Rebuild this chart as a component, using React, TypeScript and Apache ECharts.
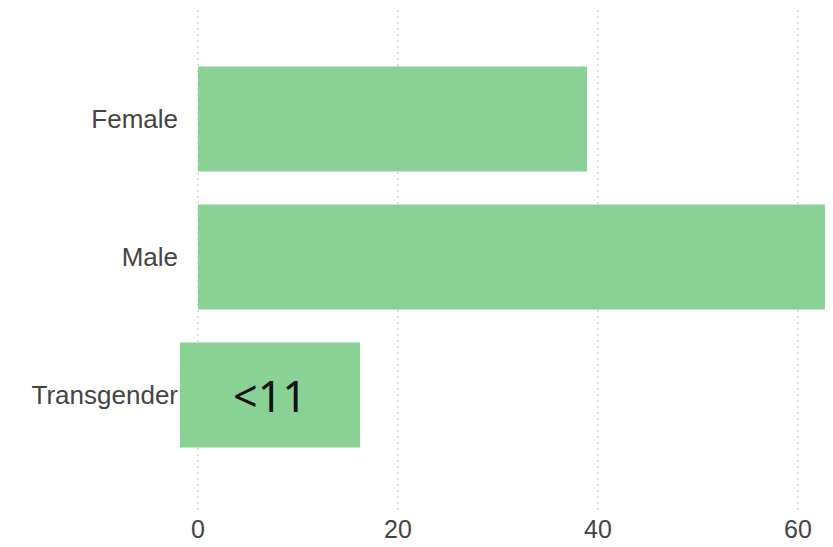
import React, { useEffect, useRef } from "react";
import * as echarts from "echarts";

const categories = ["Female", "Male", "Transgender"];
const values = [38.9, 62.8, 16.2];
const leftExtension = [null, null, -1.8];
const xTicks = [0, 20, 40, 60];
const suppressedLabel = "<11";

export default function App() {
  const ref = useRef<HTMLDivElement>(null);
  useEffect(() => {
    if (!ref.current) return;
    const chart = echarts.init(ref.current, null, { renderer: "svg" });
    const green = "#89d194";
    const textColor = "#444444";
    chart.setOption({
      animation: false,
      backgroundColor: "#ffffff",
      grid: [
        { left: 198, top: 50, width: 630, height: 414 },
        { left: 198, top: 10, width: 630, height: 500 },
      ],
      xAxis: [
        { gridIndex: 0, type: "value", min: 0, max: 63, interval: 20, show: false },
        {
          gridIndex: 1,
          type: "value",
          min: 0,
          max: 63,
          interval: 20,
          axisLine: { show: false },
          axisTick: { show: false },
          splitLine: { show: true, lineStyle: { color: "#d4d4d4", type: [2, 4], width: 1.5 } },
          axisLabel: {
            color: textColor,
            fontSize: 25,
            fontFamily: "Liberation Sans, Arial, sans-serif",
            margin: 6,
            formatter: (v: number) => (xTicks.includes(v) ? String(v) : ""),
          },
        },
      ],
      yAxis: [
        {
          gridIndex: 0,
          type: "category",
          data: categories,
          inverse: true,
          axisLine: { show: false },
          axisTick: { show: false },
          splitLine: { show: false },
          axisLabel: {
            color: textColor,
            fontSize: 26,
            fontFamily: "Liberation Sans, Arial, sans-serif",
            margin: 20,
            padding: [6, 0, 0, 0],
          },
        },
        { gridIndex: 1, type: "value", show: false },
      ],
      series: [
        {
          type: "bar",
          xAxisIndex: 0,
          yAxisIndex: 0,
          stack: "total",
          barWidth: 105,
          clip: false,
          itemStyle: { color: green },
          data: values.map((v, i) =>
            i === 2
              ? {
                  value: v,
                  label: {
                    show: true,
                    position: "inside",
                    formatter: suppressedLabel,
                    offset: [-9, 0],
                    color: "#111111",
                    fontSize: 43,
                    fontFamily: "Noto Sans, Open Sans, sans-serif",
                  },
                }
              : v
          ),
        },
        {
          type: "bar",
          xAxisIndex: 0,
          yAxisIndex: 0,
          stack: "total",
          barWidth: 105,
          clip: false,
          itemStyle: { color: green },
          data: leftExtension,
        },
      ],
    });
    return () => chart.dispose();
  }, []);
  return <div ref={ref} style={{ width: 833, height: 547, margin: -8 }} />;
}
